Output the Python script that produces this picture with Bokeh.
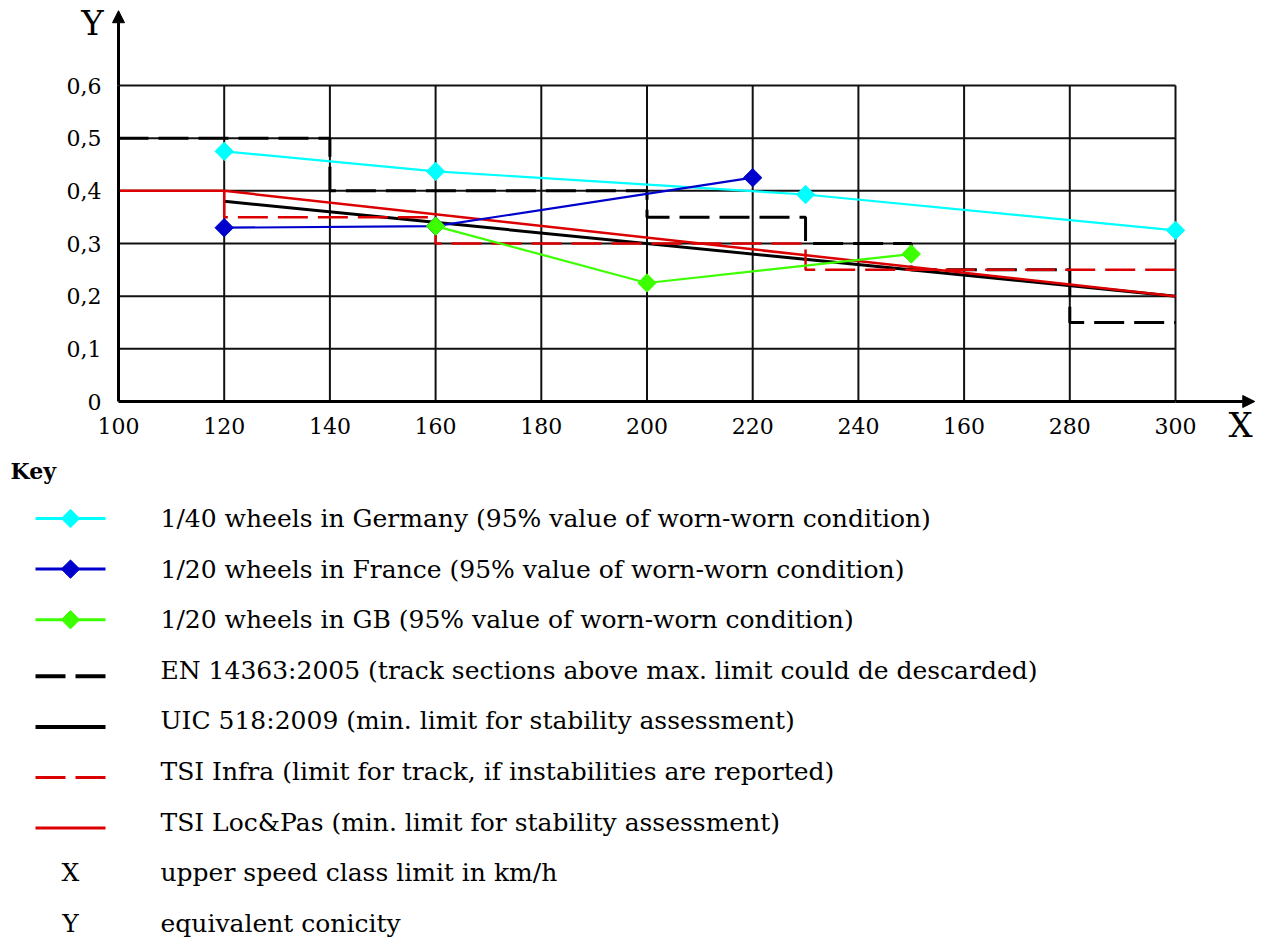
import math

from bokeh.core.properties import value
from bokeh.embed import file_html
from bokeh.models import Arrow, FixedTicker, Label, LinearAxis, NormalHead, Range1d
from bokeh.plotting import figure
from bokeh.resources import INLINE

# ---- axis ticks -------------------------------------------------------------
x_ticks = [100, 120, 140, 160, 180, 200, 220, 240, 260, 280, 300]
x_tick_labels = ["100", "120", "140", "160", "180", "200", "220", "240", "160", "280", "300"]
y_ticks = [0.0, 0.1, 0.2, 0.3, 0.4, 0.5, 0.6]
y_tick_labels = ["0", "0,1", "0,2", "0,3", "0,4", "0,5", "0,6"]

# ---- measured equivalent conicity (95% value, worn-worn) ------------------------
de_speed = [120, 160, 230, 300]
de_conicity = [0.475, 0.437, 0.393, 0.325]
fr_speed = [120, 160, 220]
fr_conicity = [0.330, 0.333, 0.425]
gb_speed = [160, 200, 250]
gb_conicity = [0.333, 0.225, 0.280]

# ---- limits ---------------------------------------------------------------------
# EN 14363:2005 step limit: class boundaries and level within each class
en_bounds = [100, 140, 200, 230, 250, 280, 300]
en_levels = [0.50, 0.40, 0.35, 0.30, 0.25, 0.15]
# UIC 518:2009 straight limit
uic_speed = [120, 300]
uic_conicity = [0.38, 0.20]
# TSI Infra step limit (starts from the 0.40 level at 120 km/h)
tsi_inf_start = 0.40
tsi_inf_bounds = [120, 160, 230, 300]
tsi_inf_levels = [0.35, 0.30, 0.25]
# TSI Loc&Pas limit
tsi_lp_speed = [100, 120, 300]
tsi_lp_conicity = [0.40, 0.40, 0.20]

legend_labels = [
    "1/40 wheels in Germany (95% value of worn-worn condition)",
    "1/20 wheels in France (95% value of worn-worn condition)",
    "1/20 wheels in GB (95% value of worn-worn condition)",
    "EN 14363:2005 (track sections above max. limit could de descarded)",
    "UIC 518:2009 (min. limit for stability assessment)",
    "TSI Infra (limit for track, if instabilities are reported)",
    "TSI Loc&Pas (min. limit for stability assessment)",
]
axis_keys = [("X", "upper speed class limit in km/h"), ("Y", "equivalent conicity")]

CYAN = "#00FFFF"
BLUE = "#0000CC"
GREEN = "#3CFF00"
RED = "#DD0000"
BLACK = "#000000"
SERIF = "DejaVu Serif"


def step_path(bounds, levels, start=None):
    """Turn class boundaries and levels into a stair-step polyline."""
    xs, ys = [], []
    if start is not None:
        xs.append(bounds[0])
        ys.append(start)
    for i, lev in enumerate(levels):
        xs += [bounds[i], bounds[i + 1]]
        ys += [lev, lev]
    return xs, ys


# ---- canvas -----------------------------------------------------------------------
W, H = 1261, 938
px_per_x = 1057 / 200.0          # pixels per km/h
px_per_y = 316 / 0.6             # pixels per unit of conicity
origin_px = (118, 401)           # where (100 km/h, 0) sits on the page

p = figure(
    width=W, height=H,
    x_range=Range1d(100 - origin_px[0] / px_per_x, 100 + (W - origin_px[0]) / px_per_x),
    y_range=Range1d(-(H - origin_px[1]) / px_per_y, origin_px[1] / px_per_y),
    x_axis_type=None, y_axis_type=None,
    min_border=0,
    output_backend="svg", toolbar_location=None,
)
p.outline_line_color = None
# page-pixel coordinates for the key underneath the chart
p.extra_x_ranges = {"page": Range1d(0, W)}
p.extra_y_ranges = {"page": Range1d(H, 0)}

xaxis = LinearAxis(fixed_location=0, ticker=FixedTicker(ticks=x_ticks),
                   major_label_overrides=dict(zip(x_ticks, x_tick_labels)),
                   bounds=(x_ticks[0], x_ticks[-1]), major_label_standoff=10)
yaxis = LinearAxis(fixed_location=100, ticker=FixedTicker(ticks=y_ticks),
                   major_label_overrides=dict(zip(y_ticks, y_tick_labels)),
                   bounds=(y_ticks[0], y_ticks[-1]), major_label_standoff=11)
for ax in (xaxis, yaxis):
    ax.axis_line_width = 3
    ax.axis_line_color = BLACK
    ax.major_tick_line_color = None
    ax.minor_tick_line_color = None
    ax.major_label_text_font = SERIF
    ax.major_label_text_font_size = "22px"
    ax.major_label_text_color = BLACK
p.add_layout(xaxis, "below")
p.add_layout(yaxis, "left")

# grid confined to the 100..300 x 0..0.6 box
p.segment(x0=x_ticks[1:], y0=[y_ticks[0]] * (len(x_ticks) - 1),
          x1=x_ticks[1:], y1=[y_ticks[-1]] * (len(x_ticks) - 1),
          line_color="#111111", line_width=2)
p.segment(x0=[x_ticks[0]] * (len(y_ticks) - 1), y0=y_ticks[1:],
          x1=[x_ticks[-1]] * (len(y_ticks) - 1), y1=y_ticks[1:],
          line_color="#111111", line_width=2)

# axis arrows and axis letters
p.add_layout(Arrow(x_start=x_ticks[-1], y_start=0, x_end=315.0, y_end=0,
                   line_width=3, line_color=BLACK,
                   end=NormalHead(size=12, fill_color=BLACK, line_color=BLACK)))
p.add_layout(Arrow(x_start=100, y_start=y_ticks[-1], x_end=100, y_end=0.742,
                   line_width=3, line_color=BLACK,
                   end=NormalHead(size=12, fill_color=BLACK, line_color=BLACK)))
p.add_layout(Label(x=100, y=y_ticks[-1], x_offset=-26, y_offset=63, text="Y",
                   text_font=SERIF, text_font_size="34px", text_align="center",
                   text_baseline="middle", text_color=BLACK))
p.add_layout(Label(x=x_ticks[-1], y=0, x_offset=65, y_offset=-23, text="X",
                   text_font=SERIF, text_font_size="34px", text_align="center",
                   text_baseline="middle", text_color=BLACK))

# limit lines
en_x, en_y = step_path(en_bounds, en_levels)
p.line(en_x, en_y, line_color=BLACK, line_width=3, line_dash="30 10")
p.line(uic_speed, uic_conicity, line_color=BLACK, line_width=3)
ti_x, ti_y = step_path(tsi_inf_bounds, tsi_inf_levels, start=tsi_inf_start)
p.line(ti_x, ti_y, line_color=RED, line_width=2.5, line_dash="30 10")
p.line(tsi_lp_speed, tsi_lp_conicity, line_color=RED, line_width=2.5)

# measured series
for xs, ys, col in ((de_speed, de_conicity, CYAN),
                    (fr_speed, fr_conicity, BLUE),
                    (gb_speed, gb_conicity, GREEN)):
    p.line(xs, ys, line_color=col, line_width=2.2)
    p.scatter(xs, ys, marker="square", angle=math.pi / 4, size=13,
              fill_color=col, line_color=col)

# ---- key ------------------------------------------------------------------------
page = dict(x_range_name="page", y_range_name="page")
key_top = 518
key_step = 50.6
sw_x0, sw_x1, sw_mid, text_x = 35, 105, 70, 160
styles = [
    dict(color=CYAN, dash="solid", width=3, marker=True),
    dict(color=BLUE, dash="solid", width=3, marker=True),
    dict(color=GREEN, dash="solid", width=3, marker=True),
    dict(color=BLACK, dash="30 10", width=4, marker=False),
    dict(color=BLACK, dash="solid", width=4, marker=False),
    dict(color=RED, dash="30 10", width=3, marker=False),
    dict(color=RED, dash="solid", width=3, marker=False),
]

p.text(x=[10], y=[470], text=["Key"], text_font=value(SERIF), text_font_size="22px",
       text_font_style="bold", text_baseline="middle", text_color=BLACK, **page)

rows_y = [key_top + key_step * i for i in range(len(legend_labels) + len(axis_keys))]
for i, st in enumerate(styles):
    ly = rows_y[i] if st["marker"] else rows_y[i] + 6
    p.line([sw_x0, sw_x1], [ly, ly], line_color=st["color"], line_width=st["width"],
           line_dash=st["dash"], **page)
    if st["marker"]:
        p.scatter([sw_mid], [ly], marker="square", angle=math.pi / 4, size=13,
                  fill_color=st["color"], line_color=st["color"], **page)
p.text(x=[text_x] * len(legend_labels), y=rows_y[:len(legend_labels)], text=legend_labels,
       text_font=value(SERIF), text_font_size="25px", text_baseline="middle",
       text_color=BLACK, **page)

ax_rows = rows_y[len(legend_labels):]
p.text(x=[sw_mid] * len(axis_keys), y=ax_rows, text=[s for s, _ in axis_keys],
       text_font=value(SERIF), text_font_size="25px", text_baseline="middle",
       text_align="center", text_color=BLACK, **page)
p.text(x=[text_x] * len(axis_keys), y=ax_rows, text=[t for _, t in axis_keys],
       text_font=value(SERIF), text_font_size="25px", text_baseline="middle",
       text_color=BLACK, **page)

open("out.html", "w").write(file_html(p, INLINE))
